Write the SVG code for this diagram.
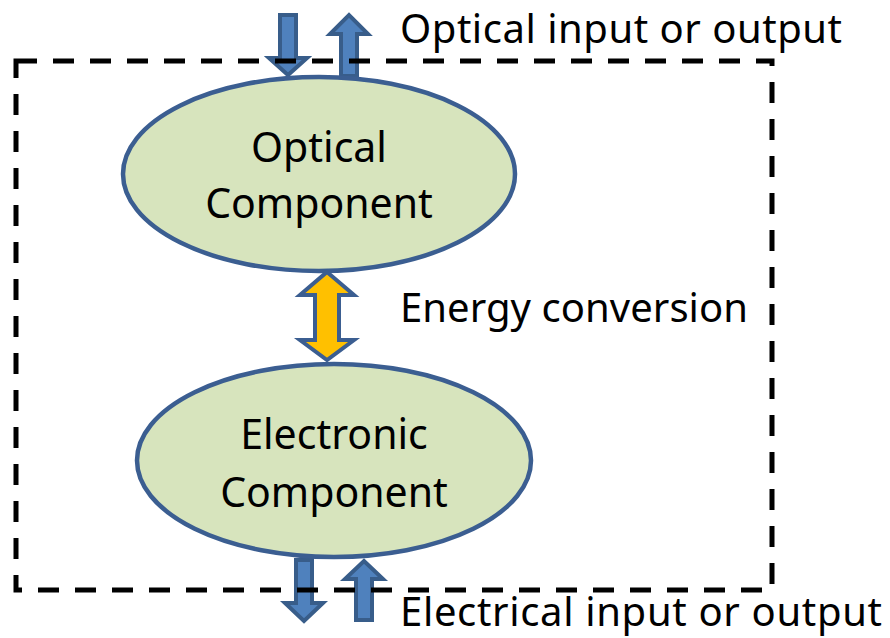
<svg xmlns="http://www.w3.org/2000/svg" width="890" height="638" viewBox="0 0 890 638">
  <style>
    .node { fill: #D7E4BD; stroke: #3B5E91; stroke-width: 4.5; }
    .arrow { fill: #4F81BD; stroke: #385D8A; stroke-width: 4; stroke-linejoin: miter; }
    .energy { fill: #FFC000; stroke: #3B5E91; stroke-width: 4; stroke-linejoin: miter; }
    .boundary { fill: none; stroke: #000000; stroke-width: 5; stroke-dasharray: 21 16; }
    text { font-family: "Noto Sans", "Open Sans", "DejaVu Sans", sans-serif; font-size: 41px; fill: #000000; }
    .label { font-size: 40px; }
    .center { text-anchor: middle; }
  </style>
  <rect width="890" height="638" fill="#FFFFFF"/>
  <g id="connectors">
    <path class="arrow" d="M280,15 L296,15 L296,58 L307,58 L288,75 L269,58 L280,58 Z"/>
    <path class="arrow" d="M341,76 L357,76 L357,34 L368,34 L349,15 L330,34 L341,34 Z"/>
    <path class="arrow" d="M296,560 L312,560 L312,603 L323,603 L304,621 L285,603 L296,603 Z"/>
    <path class="arrow" d="M356,620 L372,620 L372,579 L383,579 L364,561 L345,579 L356,579 Z"/>
  </g>
  <g id="optical-component">
    <ellipse class="node" cx="319" cy="174" rx="196" ry="97"/>
    <text class="center" x="319" y="162">Optical</text>
    <text class="center" x="319" y="218">Component</text>
  </g>
  <g id="electronic-component">
    <ellipse class="node" cx="334" cy="460.5" rx="197" ry="96.5"/>
    <text class="center" x="334" y="449">Electronic</text>
    <text class="center" x="334" y="507">Component</text>
  </g>
  <g id="energy-conversion">
    <path class="energy" d="M327,272 L354,295 L339,295 L339,340 L354,340 L327,360 L300,340 L315,340 L315,295 L300,295 Z"/>
  </g>
  <g id="boundary">
    <rect class="boundary" x="16" y="61" width="756" height="529"/>
  </g>
  <g id="labels">
    <text class="label" x="400" y="43" textLength="442" lengthAdjust="spacing">Optical input or output</text>
    <text class="label" x="400" y="322" textLength="348" lengthAdjust="spacing">Energy conversion</text>
    <text class="label" x="400" y="626" textLength="482" lengthAdjust="spacing">Electrical input or output</text>
  </g>
</svg>
